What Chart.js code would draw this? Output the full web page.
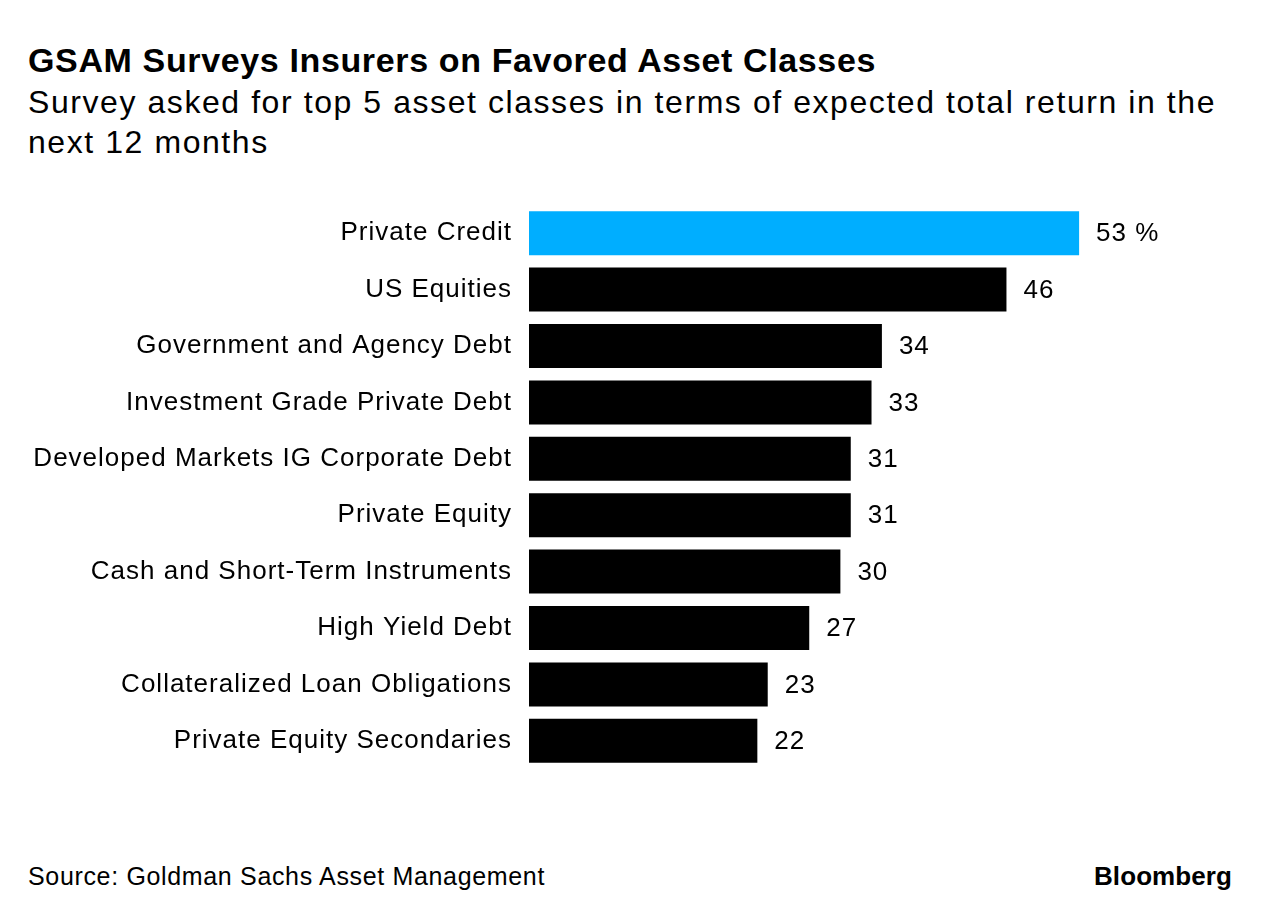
<!DOCTYPE html>
<html>
<head>
<meta charset="utf-8">
<script src="https://cdn.jsdelivr.net/npm/chart.js@4"></script>
<style>
  body { margin: 0; background: #fff; font-family: "Liberation Sans", Arial, sans-serif; color: #000; }
  #page { position: relative; width: 1271px; height: 918px; overflow: hidden; }
  .txt { position: absolute; left: 28px; white-space: nowrap; }
  #title { top: 43px; font-size: 34px; line-height: 34px; font-weight: bold; }
  #subtitle { top: 82px; font-size: 32px; line-height: 40px; }
  #subtitle span { display: block; }
  #source { top: 864px; font-size: 25px; line-height: 25px; }
  #brand { position: absolute; top: 863px; font-size: 26px; line-height: 26px; font-weight: bold; white-space: nowrap; }
  #wrap { position: absolute; left: 0; top: 200px; width: 1271px; height: 580px; }
</style>
</head>
<body>
<div id="page">
  <div id="title" class="txt">GSAM Surveys Insurers on Favored Asset Classes</div>
  <div id="subtitle" class="txt"><span id="sub1">Survey asked for top 5 asset classes in terms of expected total return in the</span><span id="sub2">next 12 months</span></div>
  <div id="wrap"><canvas id="myChart"></canvas></div>
  <div id="source" class="txt">Source: Goldman Sachs Asset Management</div>
  <div id="brand">Bloomberg</div>
</div>
<script>
const categories = [
    'Private Credit',
    'US Equities',
    'Government and Agency Debt',
    'Investment Grade Private Debt',
    'Developed Markets IG Corporate Debt',
    'Private Equity',
    'Cash and Short-Term Instruments',
    'High Yield Debt',
    'Collateralized Loan Obligations',
    'Private Equity Secondaries'
];
const shares = [53, 46, 34, 33, 31, 31, 30, 27, 23, 22];
const barColors = shares.map((v, i) => i === 0 ? '#00aeff' : '#000000');

// stretch the header/footer text a bit, the original font runs wider than Arial
function fitWidth(el, target) {
    el.style.display = 'inline-block';
    const w = el.getBoundingClientRect().width;
    const n = el.textContent.length;
    el.style.letterSpacing = ((target - w) / n) + 'px';
}
fitWidth(document.getElementById('title'), 848);
const sub1 = document.getElementById('sub1');
fitWidth(sub1, 1188);
document.getElementById('sub2').style.letterSpacing = sub1.style.letterSpacing;
sub1.style.display = 'block';
fitWidth(document.getElementById('source'), 517);
const brand = document.getElementById('brand');
fitWidth(brand, 138);
brand.style.left = (1232 - brand.getBoundingClientRect().width) + 'px';

// value labels at the end of each bar, first one gets the % sign
const endLabels = {
    id: 'endLabels',
    beforeDraw(chart) {
        chart.ctx.letterSpacing = '1px';
    },
    afterDatasetsDraw(chart) {
        const ctx = chart.ctx;
        const meta = chart.getDatasetMeta(0);
        ctx.save();
        ctx.font = '26px "Liberation Sans", Arial, sans-serif';
        ctx.fillStyle = '#000';
        ctx.textBaseline = 'middle';
        ctx.textAlign = 'left';
        meta.data.forEach((bar, i) => {
            const txt = i === 0 ? shares[i] + ' %' : String(shares[i]);
            ctx.fillText(txt, bar.x + 17, bar.y + 1);
        });
        ctx.restore();
    }
};

const ctx = document.getElementById('myChart').getContext('2d');
const myChart = new Chart(ctx, {
    type: 'bar',
    data: {
        labels: categories,
        datasets: [{
            data: shares,
            backgroundColor: barColors,
            borderWidth: 0,
            barPercentage: 0.78,
            categoryPercentage: 1
        }]
    },
    options: {
        indexAxis: 'y',
        responsive: true,
        maintainAspectRatio: false,
        animation: false,
        layout: { padding: { top: 5, bottom: 11, left: 0, right: 31 } },
        plugins: {
            legend: { display: false },
            tooltip: { enabled: false }
        },
        scales: {
            x: {
                display: false,
                min: 0,
                max: 68.5
            },
            y: {
                afterFit(scale) {
                    scale.width = 529;
                    scale.paddingTop = 0;
                    scale.paddingBottom = 0;
                },
                grid: { display: false, drawTicks: false },
                border: { display: false },
                ticks: {
                    color: '#000',
                    padding: 17,
                    font: { family: '"Liberation Sans", Arial, sans-serif', size: 26 }
                }
            }
        }
    },
    plugins: [endLabels]
});
</script>
</body>
</html>
